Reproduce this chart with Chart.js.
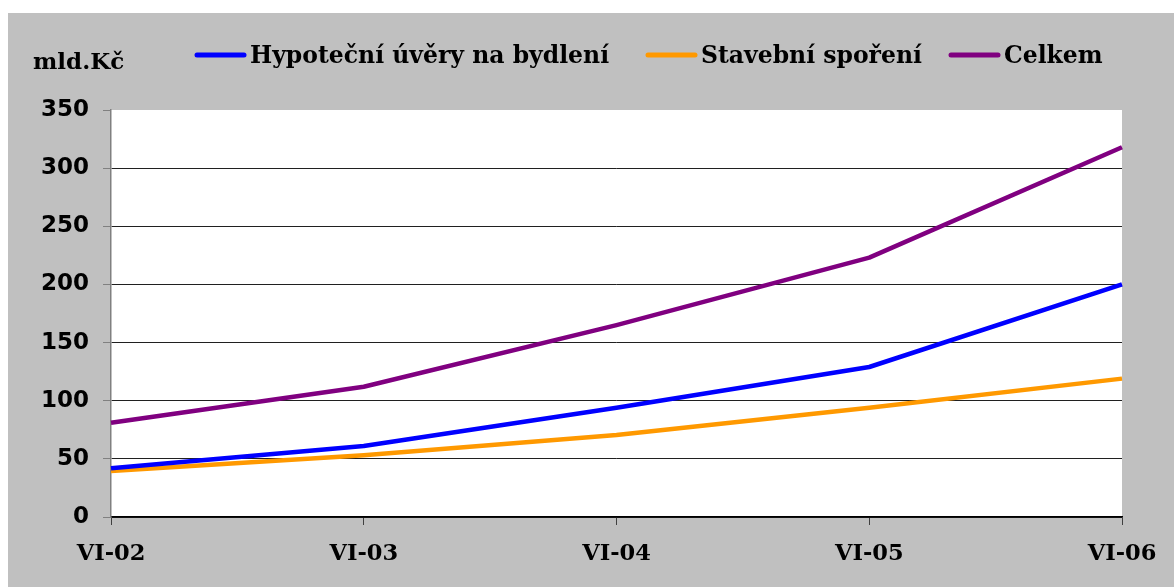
<!DOCTYPE html>
<html>
<head>
<meta charset="utf-8">
<script src="https://cdn.jsdelivr.net/npm/chart.js@4.4.1/dist/chart.umd.min.js"></script>
<style>
  html, body { margin: 0; padding: 0; background: #ffffff; width: 1174px; height: 587px; overflow: hidden; }
  #bg { position: absolute; left: 8px; top: 13px; width: 1166px; height: 574px; background: #C0C0C0; }
  #wrap { position: absolute; left: 0; top: 0; width: 1174px; height: 587px; }
</style>
</head>
<body>
<div id="bg"></div>
<div id="wrap"><canvas id="c" width="1174" height="587"></canvas></div>
<script>
const categories = ['VI-02', 'VI-03', 'VI-04', 'VI-05', 'VI-06'];
const hypotecni = [42, 61, 94, 129, 200];
const stavebni = [39.5, 53, 70.5, 94, 119];
const celkem = [81, 112, 165, 223, 318];
const seriesNames = ['Hypoteční úvěry na bydlení', 'Stavební spoření', 'Celkem'];
const seriesColors = ['#0000FF', '#FF9900', '#800080'];
const yUnit = 'mld.Kč';
const yTicks = [0, 50, 100, 150, 200, 250, 300, 350];

const serifBold = 'bold 23.5px "DejaVu Serif"';
const legendStarts = [195, 646, 949];

const plotBg = {
  id: 'plotBg',
  beforeDraw(chart) {
    const { ctx, chartArea: a } = chart;
    ctx.save();
    ctx.fillStyle = '#ffffff';
    ctx.fillRect(a.left, a.top, a.right - a.left, a.bottom - a.top);
    ctx.restore();
  }
};

const customLegend = {
  id: 'customLegend',
  afterDraw(chart) {
    const ctx = chart.ctx;
    ctx.save();
    ctx.textBaseline = 'alphabetic';
    ctx.fillStyle = '#000000';
    ctx.textAlign = 'left';
    ctx.font = 'bold 23px "DejaVu Serif"';
    ctx.fillText(yUnit, 33, 69);
    ctx.font = serifBold;
    const yLine = 55, yText = 63;
    chart.data.datasets.forEach((ds, i) => {
      const x = legendStarts[i];
      ctx.strokeStyle = ds.borderColor;
      ctx.lineWidth = 5;
      ctx.lineCap = 'round';
      ctx.beginPath();
      ctx.moveTo(x + 2, yLine);
      ctx.lineTo(x + 49, yLine);
      ctx.stroke();
      ctx.fillStyle = '#000000';
      ctx.fillText(ds.label, x + 55, yText);
    });
    ctx.restore();
  }
};

new Chart(document.getElementById('c'), {
  type: 'line',
  data: {
    labels: categories,
    datasets: [
      { label: seriesNames[0], data: hypotecni, borderColor: seriesColors[0], backgroundColor: seriesColors[0] },
      { label: seriesNames[1], data: stavebni, borderColor: seriesColors[1], backgroundColor: seriesColors[1] },
      { label: seriesNames[2], data: celkem, borderColor: seriesColors[2], backgroundColor: seriesColors[2] }
    ]
  },
  options: {
    responsive: false,
    animation: false,
    devicePixelRatio: 1,
    layout: { padding: { top: 110, right: 52, bottom: 0, left: 0 } },
    elements: {
      line: { borderWidth: 4.5, tension: 0, borderCapStyle: 'butt', borderJoinStyle: 'round' },
      point: { radius: 0, hoverRadius: 0 }
    },
    plugins: {
      legend: { display: false },
      tooltip: { enabled: false }
    },
    scales: {
      x: {
        offset: false,
        afterFit: s => { s.height = 70; },
        grid: { drawOnChartArea: false, drawTicks: true, tickLength: 8, tickColor: '#404040' },
        border: { display: true, color: '#000000', width: 1.5 },
        ticks: { color: '#000000', font: { family: 'DejaVu Serif', weight: 'bold', size: 22.5 }, padding: 16, maxRotation: 0 }
      },
      y: {
        min: 0, max: 350,
        afterFit: s => { s.width = 111; },
        afterBuildTicks: s => { s.ticks = yTicks.map(v => ({ value: v })); },
        grid: {
          color: ctx => (ctx.tick && ctx.tick.value === 350) ? 'rgba(0,0,0,0)' : '#202020',
          tickColor: '#808080',
          lineWidth: 1,
          tickLength: 8
        },
        border: { display: true, color: '#808080', width: 1.5 },
        ticks: { color: '#000000', font: { family: 'DejaVu Sans', weight: 'bold', size: 23 }, padding: 14 }
      }
    }
  },
  plugins: [plotBg, customLegend]
});
</script>
</body>
</html>
